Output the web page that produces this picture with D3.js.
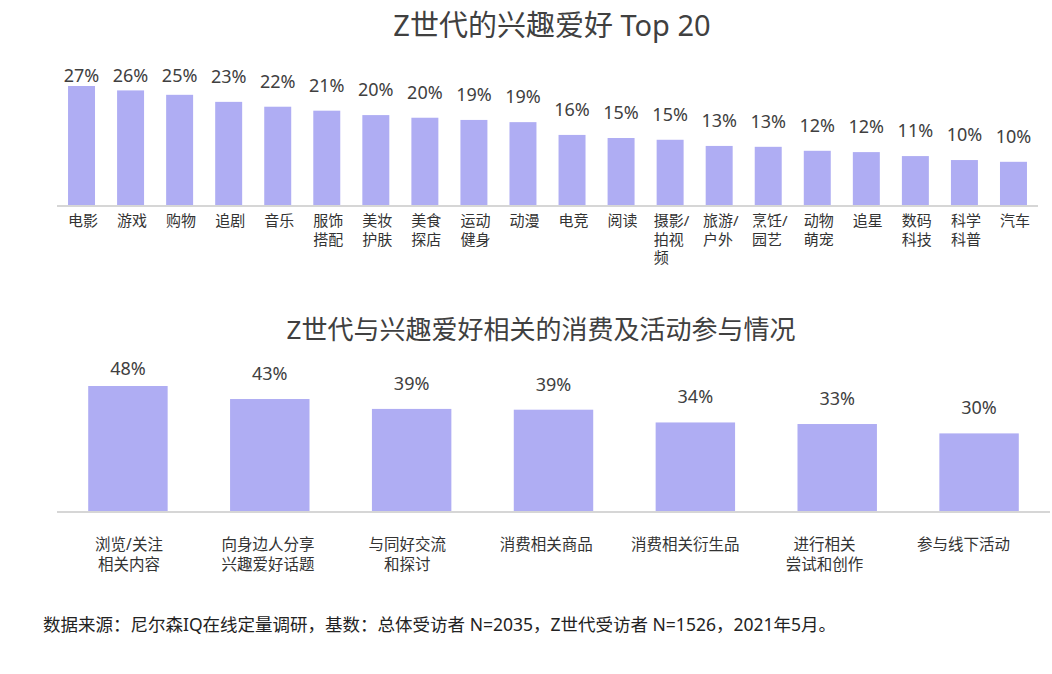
<!DOCTYPE html>
<html>
<head>
<meta charset="utf-8">
<script src="https://cdn.jsdelivr.net/npm/d3@7"></script>
<style>
  html, body { margin: 0; padding: 0; background: #fff; }
  svg { display: block; font-family: "Noto Sans", "Noto Sans CJK SC", sans-serif; }
</style>
</head>
<body>
<svg id="chart" width="1052" height="674"></svg>
<script>
// ---- Data ----
const topTitle = "Z世代的兴趣爱好 Top 20";
const topCategories = ["电影","游戏","购物","追剧","音乐","服饰\n搭配","美妆\n护肤","美食\n探店","运动\n健身","动漫",
  "电竞","阅读","摄影/\n拍视\n频","旅游/\n户外","烹饪/\n园艺","动物\n萌宠","追星","数码\n科技","科学\n科普","汽车"];
const topValues = [27.0, 26.0, 25.0, 23.4, 22.3, 21.4, 20.4, 19.8, 19.3, 18.8,
  15.9, 15.2, 14.8, 13.4, 13.2, 12.3, 12.0, 11.1, 10.2, 9.8];

const bottomTitle = "Z世代与兴趣爱好相关的消费及活动参与情况";
const bottomCategories = ["浏览/关注\n相关内容","向身边人分享\n兴趣爱好话题","与同好交流\n和探讨","消费相关商品",
  "消费相关衍生品","进行相关\n尝试和创作","参与线下活动"];
const bottomValues = [48.0, 43.0, 39.2, 38.9, 34.0, 33.4, 29.8];

const footnote = "数据来源：尼尔森IQ在线定量调研，基数：总体受访者 N=2035，Z世代受访者 N=1526，2021年5月。";

// ---- Styles ----
const barColor = "#afadf3";
const axisColor = "#d6d6d6";
const textColor = "#404040";
const fmt = v => Math.round(v) + "%";

const svg = d3.select("#chart");

function drawChart(cfg) {
  const x = d3.scaleBand().domain(cfg.categories).range([cfg.x0, cfg.x1]).paddingInner(cfg.padding).paddingOuter(cfg.padding / 2);
  const y = d3.scaleLinear().domain([0, cfg.refValue]).range([cfg.baseline, cfg.refTop]);
  // scale for category label placement
  const xl = cfg.labelRange
    ? d3.scalePoint().domain(cfg.categories).range(cfg.labelRange)
    : (c => x(c) + x.bandwidth() / 2);
  const g = svg.append("g");

  g.append("text")
    .attr("x", cfg.titleX).attr("y", cfg.titleY)
    .attr("text-anchor", "middle")
    .attr("font-size", cfg.titleSize)
    .attr("fill", textColor)
    .text(cfg.title);

  const data = cfg.categories.map((c, i) => ({ c, v: cfg.values[i] }));

  g.selectAll("rect.bar").data(data).join("rect")
    .attr("class", "bar")
    .attr("x", d => x(d.c))
    .attr("width", x.bandwidth())
    .attr("y", d => y(d.v))
    .attr("height", d => y(0) - y(d.v))
    .attr("fill", barColor);

  // axis baseline via d3 axis (no ticks)
  const axis = d3.axisBottom(x).tickSize(0).tickFormat("");
  const ag = g.append("g").attr("transform", `translate(0,${cfg.baseline + 1})`).call(axis);
  ag.select(".domain").attr("stroke", axisColor).attr("stroke-width", 2)
    .attr("d", `M${cfg.x0},0H${cfg.x1}`);

  g.selectAll("text.val").data(data).join("text")
    .attr("class", "val")
    .attr("x", d => x(d.c) + x.bandwidth() / 2)
    .attr("y", d => Math.max(cfg.labelMinY, y(d.v) - cfg.labelGap))
    .attr("text-anchor", "middle")
    .attr("font-size", cfg.valueSize)
    .attr("fill", textColor)
    .text(d => fmt(d.v));

  const lab = g.selectAll("text.cat").data(data).join("text")
    .attr("class", "cat")
    .attr("font-size", cfg.catSize)
    .attr("fill", "#333");
  lab.each(function(d) {
    const t = d3.select(this);
    const lines = d.c.split("\n");
    const cx = xl(d.c);
    const spans = lines.map((ln, k) => t.append("tspan")
      .attr("y", cfg.catY + k * cfg.catLine)
      .text(ln));
    if (cfg.leftBlock) {
      const maxW = d3.max(spans, s => s.node().getComputedTextLength());
      spans.forEach(s => s.attr("x", cx - maxW / 2 + 1.5).attr("text-anchor", "start"));
    } else {
      spans.forEach(s => s.attr("x", cx).attr("text-anchor", "middle"));
    }
  });
}

drawChart({
  title: topTitle, titleX: 552, titleY: 36, titleSize: 29,
  categories: topCategories, values: topValues,
  x0: 57, x1: 1038, padding: 0.45,
  baseline: 205, refValue: 27, refTop: 86,
  labelGap: 19, labelMinY: 82, valueSize: 18,
  catY: 226, catLine: 18.5, catSize: 15, leftBlock: true
});

drawChart({
  title: bottomTitle, titleX: 541, titleY: 339, titleSize: 26,
  categories: bottomCategories, values: bottomValues,
  x0: 57, x1: 1050, padding: 0.44,
  baseline: 511, refValue: 48, refTop: 386,
  labelGap: 19, labelMinY: 375, valueSize: 18,
  labelRange: [129, 963.5],
  catY: 550, catLine: 20, catSize: 15.5, leftBlock: false
});

svg.append("text")
  .attr("x", 43).attr("y", 631)
  .attr("font-size", 17.5)
  .attr("fill", "#222")
  .text(footnote);
</script>
</body>
</html>
